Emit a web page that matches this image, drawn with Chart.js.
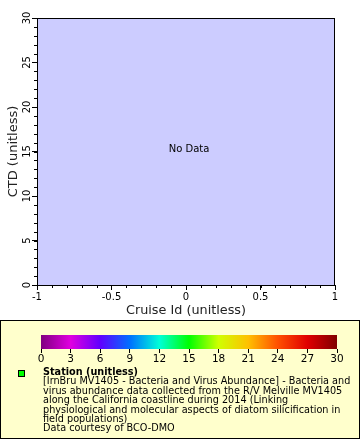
<!DOCTYPE html>
<html>
<head>
<meta charset="utf-8">
<script src="https://cdn.jsdelivr.net/npm/chart.js@4"></script>
<style>
  body { margin: 0; background: #fff; font-family: "DejaVu Sans", sans-serif; }
  #wrap { position: relative; width: 360px; height: 440px; }
  #main { position: absolute; left: 0; top: 0; }
  #legend { position: absolute; left: 0; top: 320px; width: 360px; height: 119px;
            box-sizing: border-box; border: 1px solid #000; background: #ffffcc; }
  #bar { position: absolute; left: 0; top: 10px; }
  #marker { position: absolute; left: 17px; top: 49px; width: 5px; height: 5px;
            background: #00ff00; border: 1px solid #000; }
  #txt { position: absolute; left: 42px; top: 46px; font-size: 9.7px; line-height: 9.4px;
         color: #000; white-space: nowrap; }
</style>
</head>
<body>
<div id="wrap">
  <canvas id="main" width="360" height="320"></canvas>
  <div id="legend">
    <canvas id="bar" width="360" height="36"></canvas>
    <div id="marker"></div>
    <div id="txt"></div>
  </div>
</div>
<script>
// data
let xTicks = [-1, -0.5, 0, 0.5, 1];
let yTicks = [0, 5, 10, 15, 20, 25, 30];
let stationPoints = [];   // pas de données
let colorTicks = [0, 3, 6, 9, 12, 15, 18, 21, 24, 27, 30];
let paletteColors = ['#800080', '#e000e0', '#6000ff', '#0070ff', '#00ffd8', '#00ff00',
                     '#d0ff00', '#ffc000', '#ff5000', '#e00000', '#800000'];
let legendTitle = 'Station (unitless)';
let legendLines = [
  '[IrnBru MV1405 - Bacteria and Virus Abundance] - Bacteria and',
  'virus abundance data collected from the R/V Melville MV1405',
  'along the California coastline during 2014 (Linking',
  'physiological and molecular aspects of diatom silicification in',
  'field populations)',
  'Data courtesy of BCO-DMO'
];

const FONT = 'DejaVu Sans';

// legend text
let txt = document.getElementById('txt');
txt.innerHTML = '<b>' + legendTitle + '</b><br>' + legendLines.join('<br>');

// fond + cadre + petites graduations + labels y tournés
const plotDeco = {
  id: 'plotDeco',
  beforeDraw(chart) {
    const a = chart.chartArea, ctx = chart.ctx;
    ctx.save();
    ctx.fillStyle = '#ccccff';
    ctx.fillRect(a.left, a.top, a.right - a.left, a.bottom - a.top);
    ctx.restore();
  },
  afterDraw(chart) {
    const a = chart.chartArea, ctx = chart.ctx;
    const xs = chart.scales.x, ys = chart.scales.y;
    ctx.save();
    ctx.strokeStyle = '#000';
    ctx.lineWidth = 1;
    ctx.strokeRect(a.left + 0.5, a.top + 0.5, a.right - a.left - 1, a.bottom - a.top);
    // minor ticks
    ctx.beginPath();
    for (let v = -1; v <= 1.0001; v += 0.1) {
      let px = Math.round(xs.getPixelForValue(v)) + 0.5;
      ctx.moveTo(px, a.bottom); ctx.lineTo(px, a.bottom + 3);
    }
    for (let v = 0; v <= 30; v += 1) {
      let py = Math.round(ys.getPixelForValue(v)) + 0.5;
      ctx.moveTo(a.left, py); ctx.lineTo(a.left - 3, py);
    }
    ctx.stroke();
    // y labels, rotated
    ctx.fillStyle = '#000';
    ctx.font = '10px "' + FONT + '"';
    ctx.textAlign = 'center';
    ctx.textBaseline = 'alphabetic';
    yTicks.forEach(v => {
      ctx.save();
      ctx.translate(30, ys.getPixelForValue(v));
      ctx.rotate(-Math.PI / 2);
      ctx.fillText(String(v), 0, 0);
      ctx.restore();
    });
    // No Data
    if (stationPoints.length === 0) {
      ctx.textBaseline = 'middle';
      ctx.fillText('No Data', (a.left + a.right) / 2 + 3, ys.getPixelForValue(15.2));
    }
    ctx.restore();
  }
};

new Chart(document.getElementById('main').getContext('2d'), {
  type: 'scatter',
  data: { datasets: [{ label: legendTitle, data: stationPoints, backgroundColor: '#00ff00' }] },
  options: {
    responsive: false,
    animation: false,
    layout: { padding: { top: 18, right: 25, left: 0, bottom: 0 } },
    plugins: { legend: { display: false }, tooltip: { enabled: false } },
    scales: {
      x: {
        type: 'linear', min: -1, max: 1,
        afterBuildTicks: s => { s.ticks = xTicks.map(v => ({ value: v })); },
        afterFit: s => { s.height = 35; },
        ticks: { color: '#000', font: { family: FONT, size: 10 }, padding: 1,
                 maxRotation: 0, callback: v => String(v) },
        grid: { drawOnChartArea: false, tickLength: 5, color: '#000' },
        border: { color: '#000' },
        title: { display: true, text: 'Cruise Id (unitless)', color: '#222',
                 font: { family: FONT, size: 12.8 }, padding: { top: 4, bottom: 2 } }
      },
      y: {
        type: 'linear', min: 0, max: 30,
        afterBuildTicks: s => { s.ticks = yTicks.map(v => ({ value: v })); },
        afterFit: s => { s.width = 37; },
        ticks: { display: false },
        grid: { drawOnChartArea: false, tickLength: 5, color: '#000' },
        border: { color: '#000' },
        title: { display: true, text: 'CTD (unitless)', color: '#222',
                 font: { family: FONT, size: 13 }, padding: { top: 6, bottom: 0 } }
      }
    }
  },
  plugins: [plotDeco]
});

// barre de couleurs
const gradBar = {
  id: 'gradBar',
  beforeDraw(chart) {
    const a = chart.chartArea, ctx = chart.ctx, xs = chart.scales.x;
    let g = ctx.createLinearGradient(a.left, 0, a.right, 0);
    colorTicks.forEach((v, i) => {
      g.addColorStop((xs.getPixelForValue(v) - a.left) / (a.right - a.left), paletteColors[i]);
    });
    ctx.save();
    ctx.fillStyle = g;
    ctx.fillRect(a.left, a.top, a.right - a.left, a.bottom - a.top);
    ctx.restore();
  }
};

new Chart(document.getElementById('bar').getContext('2d'), {
  type: 'scatter',
  data: { datasets: [{ data: [] }] },
  options: {
    responsive: false,
    animation: false,
    layout: { padding: { top: 4, right: 24, left: 40, bottom: 0 } },
    plugins: { legend: { display: false }, tooltip: { enabled: false } },
    scales: {
      x: {
        type: 'linear', min: 0, max: 30,
        afterBuildTicks: s => { s.ticks = colorTicks.map(v => ({ value: v })); },
        afterFit: s => { s.height = 18; },
        ticks: { color: '#000', font: { family: FONT, size: 10.5 }, padding: 0, maxRotation: 0 },
        grid: { drawOnChartArea: false, tickLength: 4, color: '#000' },
        border: { display: false }
      },
      y: { display: false, min: 0, max: 1 }
    }
  },
  plugins: [gradBar]
});
</script>
</body>
</html>
